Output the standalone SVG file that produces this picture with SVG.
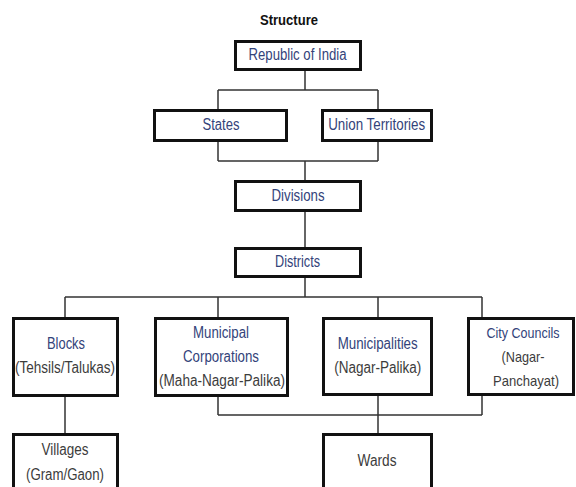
<svg xmlns="http://www.w3.org/2000/svg" width="576" height="487" viewBox="0 0 576 487">
<style>
.box{fill:#fff;stroke:#111;stroke-width:3}
.c{fill:none;stroke:#333;stroke-width:1.5}
text{font-family:"Liberation Sans",Arial,sans-serif;font-size:16px;text-anchor:middle}
.b{fill:#33437a}
.g{fill:#3c3c3c}
.s{font-size:15px}
.t{font-weight:bold;font-size:14.5px;fill:#111}
</style>
<rect width="576" height="487" fill="#fff"/>
<text class="t" x="289" y="25" textLength="58" lengthAdjust="spacingAndGlyphs">Structure</text>
<g id="connectors">
<path class="c" d="M305,71V90M218,90H378M218,90V109M378,90V109"/>
<path class="c" d="M218,142V161M378,142V161M218,161H378M305,161V180"/>
<path class="c" d="M305,212V247"/>
<path class="c" d="M305,278V297M65,297H482M65,297V317M218,297V317M378,297V317M482,297V317"/>
<path class="c" d="M65,397V433"/>
<path class="c" d="M218,397V415M378,396V433M482,396V415M218,415H482"/>
</g>
<g id="republic">
<rect class="box" x="235.5" y="41.5" width="125" height="28"/>
<text class="b" x="297.5" y="59.5" textLength="98" lengthAdjust="spacingAndGlyphs">Republic of India</text>
</g>
<g id="states">
<rect class="box" x="154.5" y="110.5" width="132" height="30"/>
<text class="b" x="221" y="130" textLength="37" lengthAdjust="spacingAndGlyphs">States</text>
</g>
<g id="union-territories">
<rect class="box" x="322.5" y="110.5" width="109" height="30"/>
<text class="b" x="376.7" y="130" textLength="97" lengthAdjust="spacingAndGlyphs">Union Territories</text>
</g>
<g id="divisions">
<rect class="box" x="235.5" y="181.5" width="125" height="29"/>
<text class="b" x="298" y="200.5" textLength="53" lengthAdjust="spacingAndGlyphs">Divisions</text>
</g>
<g id="districts">
<rect class="box" x="235.5" y="248.5" width="125" height="28"/>
<text class="b" x="297.5" y="266.5" textLength="45" lengthAdjust="spacingAndGlyphs">Districts</text>
</g>
<g id="blocks">
<rect class="box" x="13.5" y="318.5" width="104" height="77"/>
<text class="b" x="66" y="348.5" textLength="38" lengthAdjust="spacingAndGlyphs">Blocks</text>
<text class="g" x="65" y="372.5" textLength="100" lengthAdjust="spacingAndGlyphs">(Tehsils/Talukas)</text>
</g>
<g id="municipal-corporations">
<rect class="box" x="155.5" y="318.5" width="132" height="77"/>
<text class="b" x="221" y="337.5" textLength="56" lengthAdjust="spacingAndGlyphs">Municipal</text>
<text class="b" x="221" y="361.5" textLength="76" lengthAdjust="spacingAndGlyphs">Corporations</text>
<text class="g" x="222" y="385.5" textLength="126" lengthAdjust="spacingAndGlyphs">(Maha-Nagar-Palika)</text>
</g>
<g id="municipalities">
<rect class="box" x="323.5" y="318.5" width="108" height="76"/>
<text class="b" x="377.7" y="348.5" textLength="80" lengthAdjust="spacingAndGlyphs">Municipalities</text>
<text class="g" x="377.7" y="372.5" textLength="87" lengthAdjust="spacingAndGlyphs">(Nagar-Palika)</text>
</g>
<g id="city-councils">
<rect class="box" x="468.5" y="318.5" width="105" height="76"/>
<text class="b s" x="523" y="337.5" textLength="73" lengthAdjust="spacingAndGlyphs">City Councils</text>
<text class="g s" x="523" y="361.5" textLength="43" lengthAdjust="spacingAndGlyphs">(Nagar-</text>
<text class="g s" x="526" y="385.5" textLength="66" lengthAdjust="spacingAndGlyphs">Panchayat)</text>
</g>
<g id="villages">
<rect class="box" x="13.5" y="434.5" width="104" height="60"/>
<text class="g" x="65" y="455" textLength="47" lengthAdjust="spacingAndGlyphs">Villages</text>
<text class="g" x="65" y="479.5" textLength="78" lengthAdjust="spacingAndGlyphs">(Gram/Gaon)</text>
</g>
<g id="wards">
<rect class="box" x="323.5" y="434.5" width="108" height="60"/>
<text class="g" x="377" y="466" textLength="39" lengthAdjust="spacingAndGlyphs">Wards</text>
</g>
</svg>
